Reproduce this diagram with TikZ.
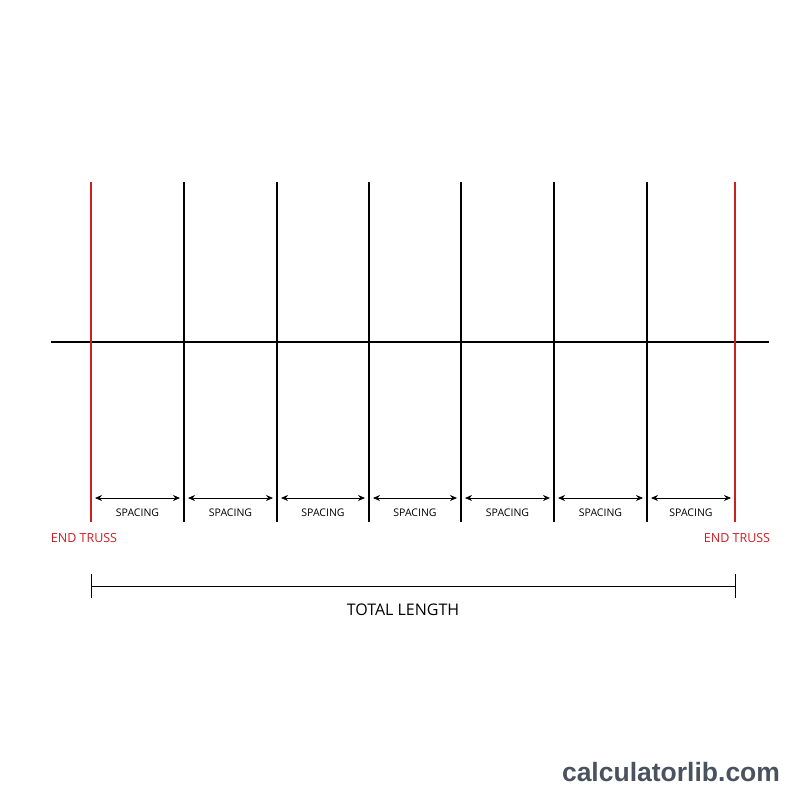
\documentclass[tikz,border=0pt]{standalone}
\usepackage{fontspec}
\setmainfont{Open Sans}
\newfontfamily\wmfont{Liberation Sans}
\usetikzlibrary{arrows.meta}
\definecolor{trussred}{HTML}{CC1F24}
\definecolor{wmgray}{HTML}{4A5260}
\tikzset{
  truss/.style={line width=2.4pt,black},
  endtruss/.style={line width=2pt,trussred},
  ridge/.style={line width=2pt,black},
  spacearrow/.style={line width=0.8pt,{Stealth[length=7pt,width=6pt]}-{Stealth[length=7pt,width=6pt]}},
  spacelabel/.style={font=\fontsize{10.5}{12}\selectfont,inner sep=0pt},
  endlabel/.style={font=\fontsize{12.5}{14}\selectfont,text=trussred,inner sep=0pt},
  dimline/.style={line width=0.9pt,black},
}
\begin{document}
\begin{tikzpicture}[x=1pt,y=-1pt]
\useasboundingbox (0,0) rectangle (800,800);
\fill[white] (0,0) rectangle (800,800);
% ridge
\coordinate (rl) at (51,342);
\coordinate (rr) at (769,342);
\draw[ridge] (rl) -- (rr);
% trusses
\foreach \i/\x in {1/91,2/184,3/277,4/369,5/461,6/554,7/647,8/735}{
  \coordinate (t\i) at (\x,182);
  \coordinate (b\i) at (\x,522);
  \coordinate (al\i) at (\x+4,498);
  \coordinate (ar\i) at (\x-4,498);
}
\draw[endtruss] (t1) -- (b1);
\draw[endtruss] (t8) -- (b8);
\foreach \i in {2,...,7}{ \draw[truss] (t\i) -- (b\i); }
% spacing arrows
\foreach \i/\j in {1/2,2/3,3/4,4/5,5/6,6/7,7/8}{
  \draw[spacearrow] (al\i) -- (ar\j);
  \path (al\i) -- (ar\j) node[midway,below=10.5pt,spacelabel] (s\i) {SPACING};
}
% end labels
\node[endlabel] (el) at (84,538.5) {END TRUSS};
\node[endlabel] (er) at (737,538.5) {END TRUSS};
% total length
\coordinate (d1) at (91,586);
\coordinate (d2) at (735,586);
\coordinate (d1t) at (91,574);
\coordinate (d1b) at (91,598);
\coordinate (d2t) at (735,574);
\coordinate (d2b) at (735,598);
\draw[dimline] (d1) -- (d2);
\draw[dimline] (d1t) -- (d1b);
\draw[dimline] (d2t) -- (d2b);
\node[font=\fontsize{16}{18}\selectfont,inner sep=0pt] (tl) at (403,609.5) {TOTAL LENGTH};
% watermark
\node[font=\wmfont\bfseries\fontsize{26.5}{30}\selectfont,text=wmgray,inner sep=0pt] (wm) at (671,772) {calculatorlib.com};
\end{tikzpicture}
\end{document}
